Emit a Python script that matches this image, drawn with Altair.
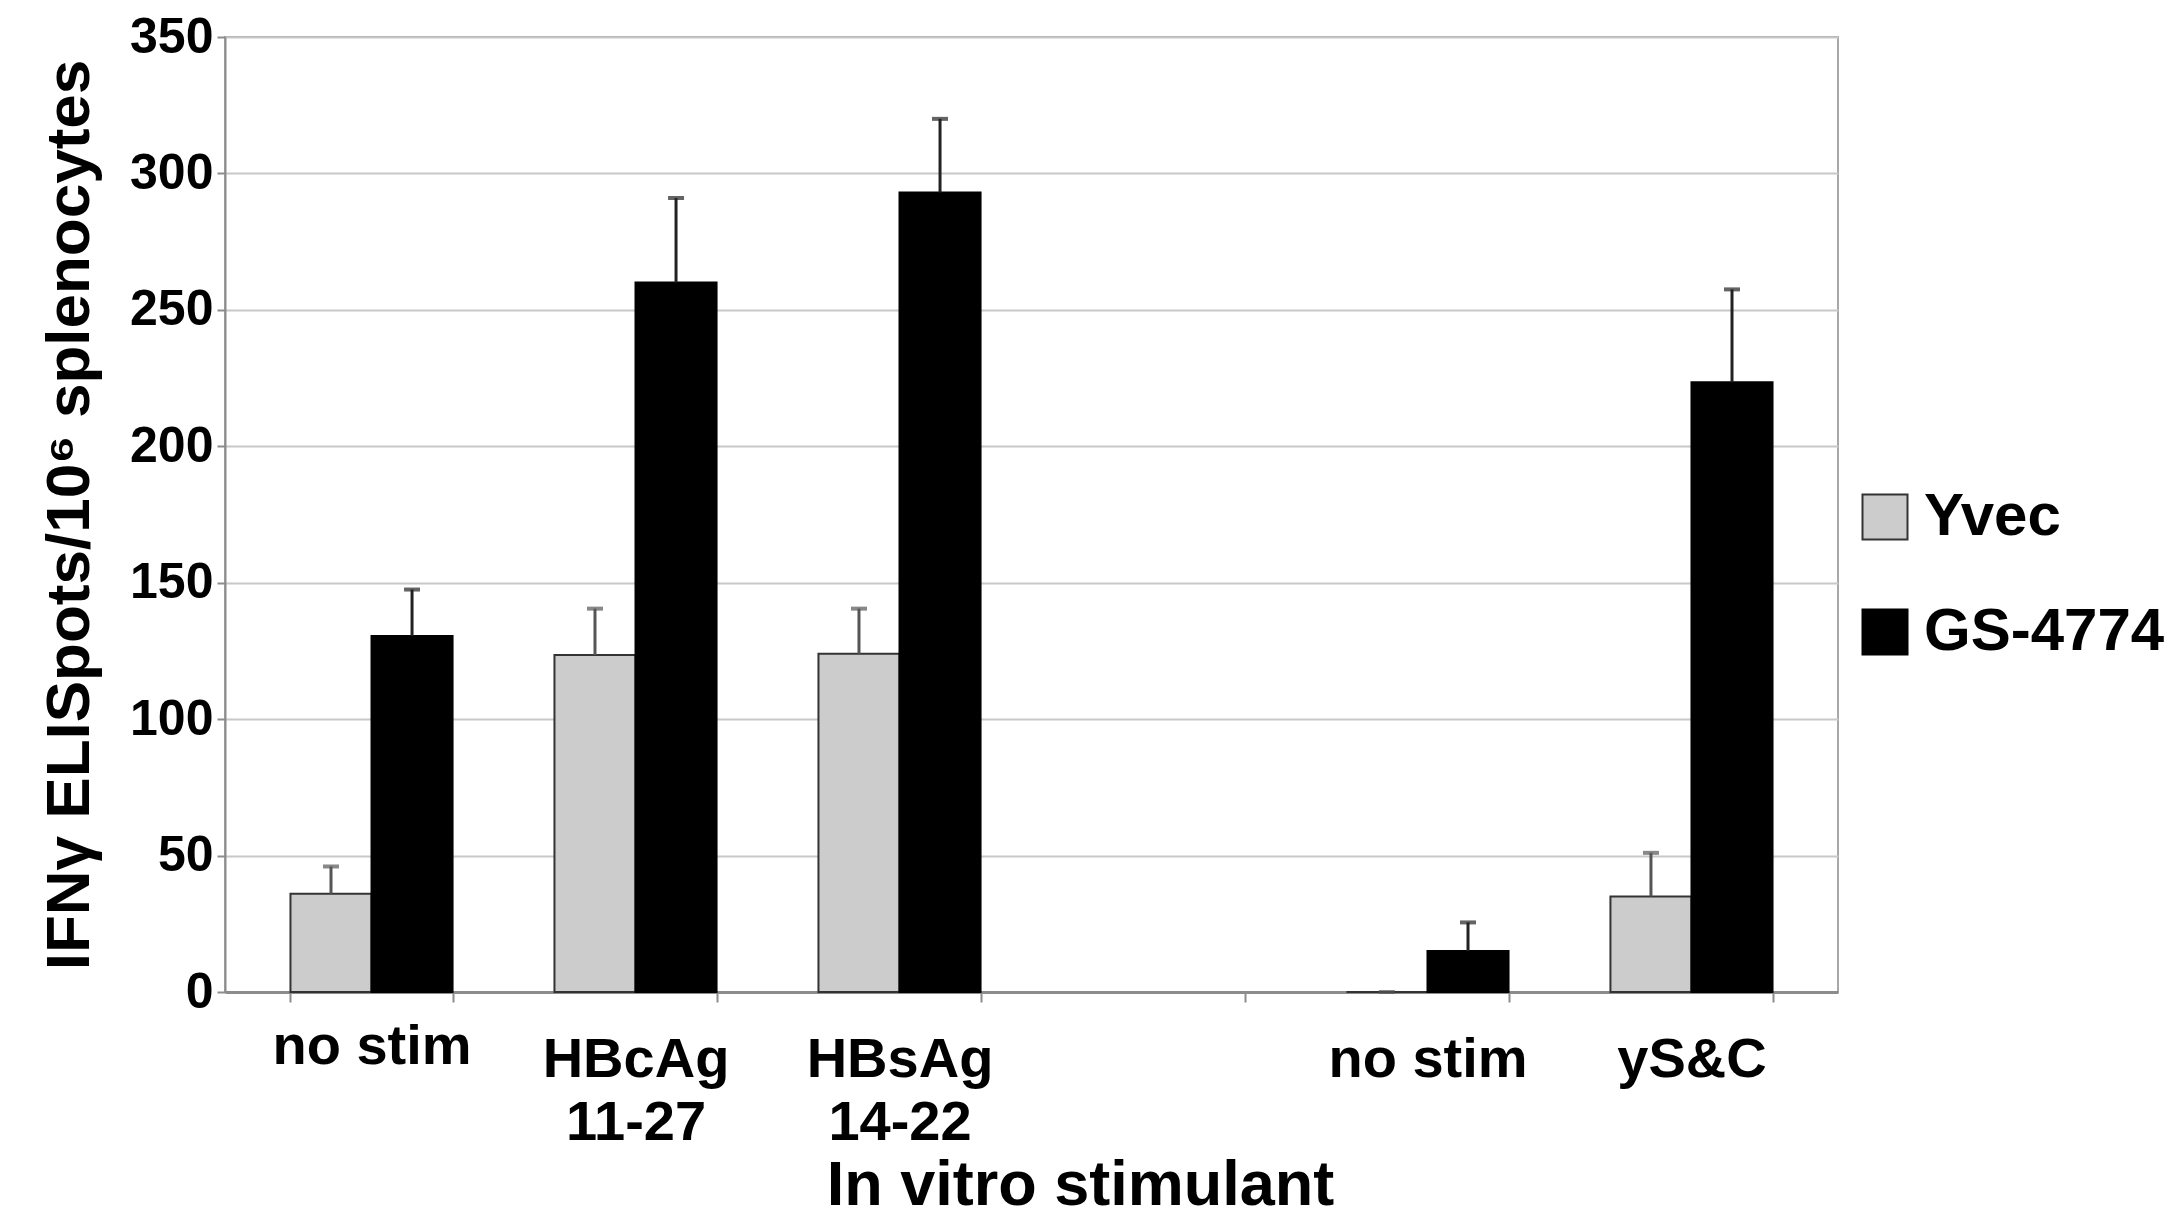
import altair as alt
import pandas as pd

# ---- data ----
x_domain = ["no stim", "HBcAg|11-27", "HBsAg|14-22", " ", "no stim ", "yS&C"]
groups = ["no stim", "HBcAg|11-27", "HBsAg|14-22", "no stim ", "yS&C"]
series = ["Yvec", "GS-4774"]
yvec_mean = [36.0, 123.5, 124.0, 0.0, 35.0]
yvec_upper = [46.0, 140.5, 140.5, 0.0, 51.0]
gs_mean = [130.5, 260.0, 293.0, 15.0, 223.5]
gs_upper = [147.5, 291.0, 320.0, 25.5, 257.5]
y_ticks = [0, 50, 100, 150, 200, 250, 300, 350]

rows = []
for g, m, u in zip(groups, yvec_mean, yvec_upper):
    rows.append({"group": g, "series": "Yvec", "mean": m, "upper": u})
for g, m, u in zip(groups, gs_mean, gs_upper):
    rows.append({"group": g, "series": "GS-4774", "mean": m, "upper": u})
df = pd.DataFrame(rows)

FONT = "Liberation Sans"

x_enc = alt.X(
    "group:N",
    sort=x_domain,
    scale=alt.Scale(domain=x_domain, paddingInner=0.386, paddingOuter=0.248),
    axis=alt.Axis(
        title="In vitro stimulant",
        labelExpr="split(datum.label, '|')",
        labelAngle=0,
        labelFont=FONT,
        labelFontSize=56,
        labelFontWeight="bold",
        labelColor="black",
        labelLineHeight=63,
        labelLimit=0,
        labelPadding={"condition": {"test": "datum.value === 'no stim'", "value": 17}, "value": 30},
        tickBand="extent",
        tickSize=10,
        tickWidth=2,
        tickColor="#8c8c8c",
        domainColor="#8c8c8c",
        domainWidth=3,
        titleFont=FONT,
        titleFontSize=63,
        titleFontWeight="bold",
        titleColor="black",
        titleX=855,
        titleY=212,
        titleBaseline="alphabetic",
        titleAlign="center",
        titleLimit=0,
        grid=False,
    ),
)
xoff_enc = alt.XOffset("series:N", sort=series, scale=alt.Scale(domain=series))

y_scale = alt.Scale(domain=[0, 350], nice=False)

base = alt.Chart(df).encode(x=x_enc, xOffset=xoff_enc)

bars = base.mark_bar(strokeWidth=2).encode(
    y=alt.Y(
        "mean:Q",
        scale=y_scale,
        axis=alt.Axis(
            values=y_ticks,
            title="IFNγ ELISpots/10⁶ splenocytes",
            titleFont=FONT,
            titleFontSize=62,
            titleFontWeight="bold",
            titleColor="black",
            titlePadding=28,
            titleLimit=0,
            labelFont=FONT,
            labelFontSize=50,
            labelFontWeight="bold",
            labelColor="black",
            labelPadding=4,
            tickSize=8,
            tickWidth=2,
            tickColor="#8c8c8c",
            domainColor="#8c8c8c",
            domainWidth=2,
            grid=True,
            gridColor="#c8c8c8",
            gridWidth=2,
        ),
    ),
    fill=alt.Fill(
        "series:N",
        sort=series,
        scale=alt.Scale(domain=series, range=["#cccccc", "#000000"]),
        legend=alt.Legend(
            title=None,
            orient="none",
            legendX=1630,
            legendY=450,
            symbolType="square",
            symbolSize=2025,
            symbolStrokeColor="#333333",
            symbolStrokeWidth=2,
            labelFont=FONT,
            labelFontSize=60,
            labelFontWeight="bold",
            labelColor="black",
            labelOffset=9,
            labelLimit=0,
            rowPadding=55,
            padding=0,
        ),
    ),
    stroke=alt.Stroke(
        "series:N",
        sort=series,
        scale=alt.Scale(domain=series, range=["#333333", "#000000"]),
        legend=None,
    ),
)

err_color = alt.Color(
    "series:N",
    sort=series,
    scale=alt.Scale(domain=series, range=["#555555", "#222222"]),
    legend=None,
)

err_rules = base.mark_rule(strokeWidth=3).encode(
    y=alt.Y("mean:Q", scale=y_scale),
    y2="upper:Q",
    color=err_color,
)
err_caps = base.mark_tick(thickness=4, size=16).encode(
    y=alt.Y("upper:Q", scale=y_scale),
    color=err_color,
)

chart = (
    alt.layer(bars, err_rules, err_caps)
    .properties(
        width=1613,
        height=955,
        autosize=alt.AutoSizeParams(type="none"),
        padding={"left": 225, "top": 37, "right": 345, "bottom": 233},
        background="white",
    )
    .configure(font=FONT)
    .configure_view(stroke="#a8a8a8", strokeWidth=2)
)

chart.save("out.html", embed_options={"renderer": "svg", "actions": False})
